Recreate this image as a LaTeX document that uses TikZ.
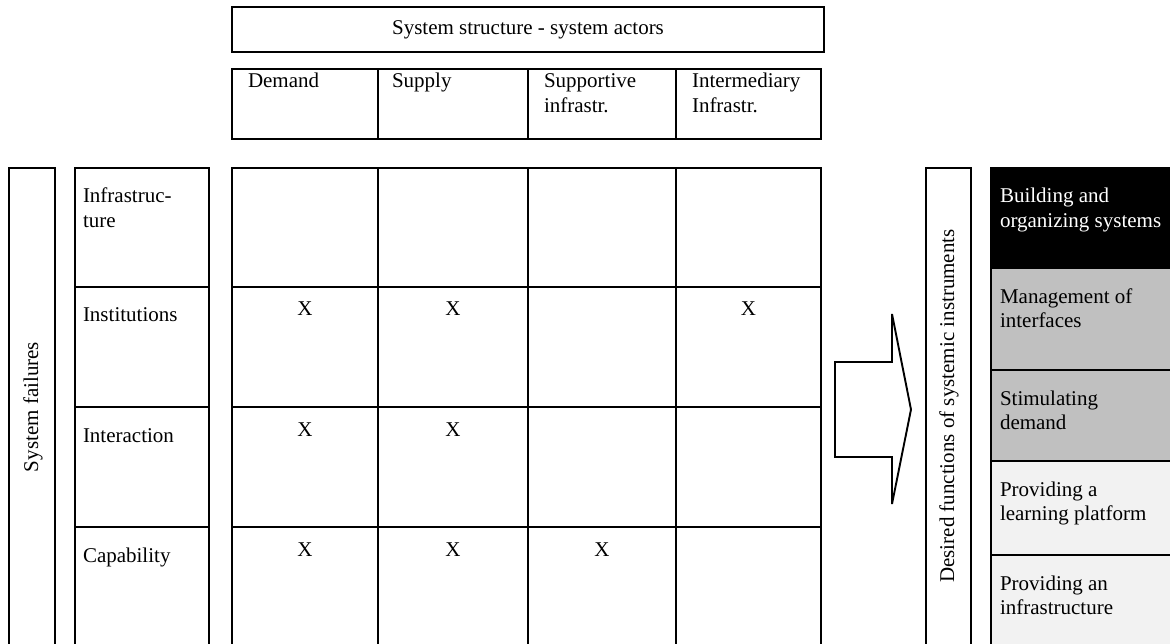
\documentclass[tikz,border=0pt]{standalone}
\usepackage{fontspec}
\setmainfont{Liberation Serif}
\usetikzlibrary{fit}
\definecolor{midgray}{HTML}{C0C0C0}
\definecolor{lightgray}{HTML}{F2F2F2}
\begin{document}
\begin{tikzpicture}[x=1pt,y=-1pt,
  boxline/.style={draw, line width=1.9pt, inner sep=0pt, outer sep=0pt},
  txt/.style={inner sep=0pt, outer sep=0pt, font=\fontsize{21}{24.5}\selectfont, anchor=base west, align=left},
  ctxt/.style={inner sep=0pt, outer sep=0pt, font=\fontsize{21}{24.5}\selectfont, anchor=base},
  vtxt/.style={inner sep=0pt, outer sep=0pt, font=\fontsize{21}{24.5}\selectfont, rotate=90}]
\useasboundingbox (0,0) rectangle (1170,644);
\fill[white] (0,0) rectangle (1170,644);

% top header
\node[boxline, fit={(232,7) (824,52)}] (top) {};
\node[ctxt] (toptext) at (528,35) {System structure - system actors};

% actor header row
\node[boxline, fit={(232,69) (378,139)}] (hd1) {};
\node[boxline, fit={(378,69) (528,139)}] (hd2) {};
\node[boxline, fit={(528,69) (676,139)}] (hd3) {};
\node[boxline, fit={(676,69) (821,139)}] (hd4) {};
\node[txt] (hdt1) at (248,88) {Demand};
\node[txt] (hdt2) at (392,88) {Supply};
\node[txt] (hdt3) at (544,112.5) {Supportive\\infrastr.};
\node[txt] (hdt4) at (692,112.5) {Intermediary\\Infrastr.};

% system failures column
\node[boxline, fit={(9,168) (55,652)}] (sf) {};
\node[vtxt] (sft) at (33,407) {System failures};

% row labels
\node[boxline, fit={(75,168) (209,287)}] (rl1) {};
\node[boxline, fit={(75,287) (209,407)}] (rl2) {};
\node[boxline, fit={(75,407) (209,527)}] (rl3) {};
\node[boxline, fit={(75,527) (209,652)}] (rl4) {};
\node[txt] (rlt1) at (83,227.5) {Infrastruc-\\ture};
\node[txt] (rlt2) at (83,322) {Institutions};
\node[txt] (rlt3) at (83,442) {Interaction};
\node[txt] (rlt4) at (83,562) {Capability};

% matrix grid
\foreach \r/\ya/\yb in {1/168/287, 2/287/407, 3/407/527, 4/527/652}{
  \foreach \c/\xa/\xb in {1/232/378, 2/378/528, 3/528/676, 4/676/821}{
    \node[boxline, fit={(\xa,\ya) (\xb,\yb)}] (g\r\c) {};
  }
}
\node[ctxt] (x21) at (305,316) {X};
\node[ctxt] (x22) at (453,316) {X};
\node[ctxt] (x24) at (748.5,316) {X};
\node[ctxt] (x31) at (305,436) {X};
\node[ctxt] (x32) at (453,436) {X};
\node[ctxt] (x41) at (305,556) {X};
\node[ctxt] (x42) at (453,556) {X};
\node[ctxt] (x43) at (602,556) {X};

% block arrow
\draw[line width=1.9pt, line join=miter] (835,362) -- (892,362) -- (892,314) -- (911,409.5) -- (892,504) -- (892,457) -- (835,457) -- cycle;

% desired functions column
\node[boxline, fit={(926,168) (971,652)}] (df) {};
\node[vtxt] (dft) at (949,406) {Desired functions of systemic instruments};

% function boxes
\node[boxline, fill=black, fit={(991,168) (1185,268)}] (f1) {};
\node[boxline, fill=midgray, fit={(991,268) (1185,370)}] (f2) {};
\node[boxline, fill=midgray, fit={(991,370) (1185,461)}] (f3) {};
\node[boxline, fill=lightgray, fit={(991,461) (1185,555)}] (f4) {};
\node[boxline, fill=lightgray, fit={(991,555) (1185,652)}] (f5) {};
\node[txt, text=white] (ft1) at (1000,227.5) {Building and\\organizing systems};
\node[txt] (ft2) at (1000,327.5) {Management of\\interfaces};
\node[txt] (ft3) at (1000,429.5) {Stimulating\\demand};
\node[txt] (ft4) at (1000,520.5) {Providing a\\learning platform};
\node[txt] (ft5) at (1000,614.5) {Providing an\\infrastructure};
\end{tikzpicture}
\end{document}
